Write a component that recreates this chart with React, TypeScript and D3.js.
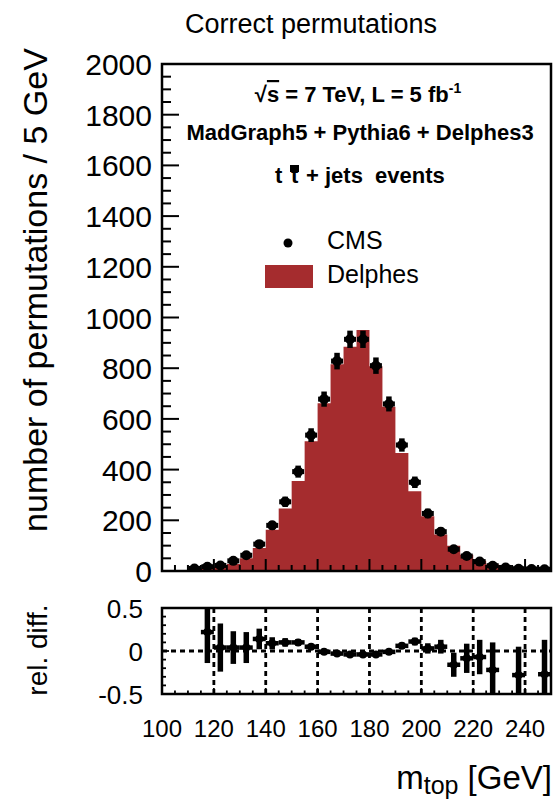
import React from 'react';
import * as d3 from 'd3';

// Reconstructed top-quark mass, 5 GeV bins (lower edges in GeV)
const binLowEdges = [110, 115, 120, 125, 130, 135, 140, 145, 150, 155, 160, 165, 170, 175,
  180, 185, 190, 195, 200, 205, 210, 215, 220, 225, 230, 235, 240, 245];
const binWidth = 5;

// Delphes simulation (filled histogram)
const delphesCounts = [5, 9, 17, 28, 50, 91, 163, 247, 355, 512, 662, 816, 885, 951,
  808, 648, 465, 315, 216, 144, 100, 64, 40, 26, 17, 12, 10, 9];

// CMS points
const cmsCounts = [10, 17, 22, 40, 62, 106, 180, 273, 392, 536, 678, 828, 914, 914,
  810, 659, 497, 350, 227, 155, 86, 59, 37, 21, 14, 9, 8, 7];

// Relative difference panel (null = no point shown)
const relDiff = [null, 0.22, 0.04, 0.04, 0.04, 0.14, 0.09, 0.10, 0.10, 0.05, -0.01, -0.03, -0.04, -0.04,
  -0.04, -0.01, 0.06, 0.11, 0.03, 0.05, -0.16, -0.085, -0.07, -0.22, null, -0.28, null, -0.27];
const relDiffErr = [null, 0.36, 0.28, 0.19, 0.18, 0.12, 0.07, 0.05, 0.04, 0.03, 0.025, 0.025, 0.025, 0.025,
  0.025, 0.03, 0.035, 0.045, 0.06, 0.08, 0.14, 0.17, 0.2, 0.32, null, 0.33, null, 0.4];

const countTicks = [0, 200, 400, 600, 800, 1000, 1200, 1400, 1600, 1800, 2000];
const massTicks = [100, 120, 140, 160, 180, 200, 220, 240];
const ratioTicks = [-0.5, 0, 0.5];
const ratioTickLabels = ['-0.5', '0', '0.5'];

const FONT = "'Liberation Sans', Arial, Helvetica, sans-serif";
const FILL = '#a52c2e';

const LEFT = 162;
const RIGHT = 551;
const MAIN_TOP = 64;
const MAIN_BOTTOM = 571;
const RATIO_TOP = 608;
const RATIO_BOTTOM = 694;

export default function App() {
  const x = d3.scaleLinear().domain([100, 250]).range([LEFT, RIGHT]);
  const y = d3.scaleLinear().domain([0, 2000]).range([MAIN_BOTTOM, MAIN_TOP]);
  const yr = d3.scaleLinear().domain([-0.5, 0.5]).range([RATIO_BOTTOM, RATIO_TOP]);

  // step-shaped histogram outline
  const stepPoints = binLowEdges.map((lo, i) => ({ m: lo, v: delphesCounts[i] }));
  stepPoints.push({ m: binLowEdges[binLowEdges.length - 1] + binWidth, v: delphesCounts[delphesCounts.length - 1] });
  const area = d3.area<{ m: number; v: number }>()
    .x(d => x(d.m))
    .y0(y(0))
    .y1(d => y(d.v))
    .curve(d3.curveStepAfter);

  const yMinor = d3.range(0, 2001, 50).filter(v => v % 200 !== 0);
  const xMinor = d3.range(100, 251, 5).filter(v => v % 20 !== 0);
  const xMajor = d3.range(120, 250, 20);
  const rMinor = d3.range(-0.5, 0.51, 0.1).map(v => Math.round(v * 10) / 10);

  const ink = '#000';

  return (
    <svg width={555} height={800} style={{ position: 'absolute', left: 0, top: 0, display: 'block' }}
      fontFamily={FONT}>
      <rect x={0} y={0} width={555} height={800} fill="#fff" />
      <defs>
        <clipPath id="mainClip">
          <rect x={LEFT} y={MAIN_TOP} width={RIGHT - LEFT} height={MAIN_BOTTOM - MAIN_TOP} />
        </clipPath>
        <clipPath id="ratioClip">
          <rect x={LEFT} y={RATIO_TOP} width={RIGHT - LEFT} height={RATIO_BOTTOM - RATIO_TOP} />
        </clipPath>
      </defs>

      <text x={311} y={33} fontSize={27} textAnchor="middle" fill={ink}>Correct permutations</text>

      {/* main panel */}
      <g clipPath="url(#mainClip)">
        <path d={area(stepPoints) || ''} fill={FILL} />
        {binLowEdges.map((lo, i) => {
          const cx = x(lo + binWidth / 2);
          const cy = y(cmsCounts[i]);
          const err = Math.sqrt(cmsCounts[i]);
          return (
            <g key={lo}>
              <line x1={x(lo) + 0.5} x2={x(lo + binWidth) - 0.5} y1={cy} y2={cy} stroke={ink} strokeWidth={5} />
              <line x1={cx} x2={cx} y1={y(cmsCounts[i] - err) + 1} y2={y(cmsCounts[i] + err) - 1} stroke={ink} strokeWidth={5.5} />
              <circle cx={cx} cy={cy} r={5} fill={ink} />
            </g>
          );
        })}
      </g>
      <rect x={LEFT} y={MAIN_TOP} width={RIGHT - LEFT} height={MAIN_BOTTOM - MAIN_TOP}
        fill="none" stroke={ink} strokeWidth={2.5} />
      {countTicks.map(v => (
        <line key={'ym' + v} x1={LEFT} x2={LEFT + 17} y1={y(v)} y2={y(v)} stroke={ink} strokeWidth={2} />
      ))}
      {yMinor.map(v => (
        <line key={'yn' + v} x1={LEFT} x2={LEFT + 9} y1={y(v)} y2={y(v)} stroke={ink} strokeWidth={2} />
      ))}
      {xMajor.map(v => (
        <line key={'xm' + v} x1={x(v)} x2={x(v)} y1={MAIN_BOTTOM} y2={MAIN_BOTTOM - 12} stroke={ink} strokeWidth={2} />
      ))}
      {xMinor.map(v => (
        <line key={'xn' + v} x1={x(v)} x2={x(v)} y1={MAIN_BOTTOM} y2={MAIN_BOTTOM - 6} stroke={ink} strokeWidth={2} />
      ))}
      {countTicks.map(v => (
        <text key={'yl' + v} x={152} y={y(v) + 11} fontSize={30} textAnchor="end" fill={ink}>{v}</text>
      ))}
      <text transform={`translate(47,290) rotate(-90)`} fontSize={34} textAnchor="middle" fill={ink}>
        number of permutations / 5 GeV
      </text>

      {/* annotations */}
      <text x={358} y={102} fontSize={22} fontWeight="bold" textAnchor="middle" fill={ink}>
        <tspan>√</tspan><tspan style={{ textDecoration: 'overline' }}>s</tspan>
        <tspan> = 7 TeV, L = 5 fb</tspan><tspan dy={-9} fontSize={14}>-1</tspan>
      </text>
      <text x={360} y={140} fontSize={22} fontWeight="bold" textAnchor="middle" fill={ink}>
        MadGraph5 + Pythia6 + Delphes3
      </text>
      <text x={275} y={183} fontSize={22} fontWeight="bold" fill={ink}>t</text>
      <text x={291} y={183} fontSize={22} fontWeight="bold" fill={ink}>t</text>
      <rect x={290} y={165} width={9} height={7} fill={ink} />
      <text x={306} y={183} fontSize={22} fontWeight="bold" fill={ink} style={{ whiteSpace: 'pre' }}>
        {'+ jets  events'}
      </text>

      {/* legend */}
      <circle cx={288} cy={243} r={4.5} fill={ink} />
      <text x={327} y={249} fontSize={25} fill={ink}>CMS</text>
      <rect x={265} y={265} width={48} height={23} fill={FILL} />
      <text x={327} y={283} fontSize={25} fill={ink}>Delphes</text>

      {/* ratio panel */}
      <g clipPath="url(#ratioClip)">
        <line x1={LEFT} x2={RIGHT} y1={yr(0)} y2={yr(0)} stroke={ink} strokeWidth={2.8} strokeDasharray="5,4" />
        {xMajor.map(v => (
          <line key={'g' + v} x1={x(v)} x2={x(v)} y1={RATIO_TOP} y2={RATIO_BOTTOM}
            stroke={ink} strokeWidth={2.8} strokeDasharray="5,4" />
        ))}
        {binLowEdges.map((lo, i) => {
          const r = relDiff[i];
          const e = relDiffErr[i];
          if (r === null || e === null) return null;
          const cx = x(lo + binWidth / 2);
          return (
            <g key={'r' + lo}>
              <line x1={x(lo)} x2={x(lo + binWidth)} y1={yr(r)} y2={yr(r)} stroke={ink} strokeWidth={4.5} />
              <line x1={cx} x2={cx} y1={yr(r - e)} y2={yr(r + e)} stroke={ink} strokeWidth={5.5} />
              <circle cx={cx} cy={yr(r)} r={4} fill={ink} />
            </g>
          );
        })}
      </g>
      <rect x={LEFT} y={RATIO_TOP} width={RIGHT - LEFT} height={RATIO_BOTTOM - RATIO_TOP}
        fill="none" stroke={ink} strokeWidth={2.5} />
      {rMinor.map(v => (
        <line key={'rt' + v} x1={LEFT} x2={LEFT + (Math.abs(v % 0.5) < 1e-9 ? 7 : 4)} y1={yr(v)} y2={yr(v)}
          stroke={ink} strokeWidth={1.8} />
      ))}
      {d3.range(100, 251, 5).map(v => (
        <line key={'rb' + v} x1={x(v)} x2={x(v)} y1={RATIO_BOTTOM} y2={RATIO_BOTTOM - (v % 20 === 0 ? 6 : 3.5)}
          stroke={ink} strokeWidth={1.8} />
      ))}
      {ratioTicks.map((v, i) => (
        <text key={'rl' + v} x={143} y={yr(v) + 10} fontSize={26} textAnchor="end" fill={ink}>{ratioTickLabels[i]}</text>
      ))}
      <text transform={`translate(47,650) rotate(-90)`} fontSize={28} textAnchor="middle" fill={ink}>rel. diff.</text>

      {massTicks.map(v => (
        <text key={'xl' + v} x={x(v)} y={737} fontSize={24} textAnchor="middle" fill={ink}>{v}</text>
      ))}
      <text x={552} y={789} fontSize={33} textAnchor="end" fill={ink}>
        <tspan>m</tspan><tspan fontSize={25} dy={5}>top</tspan><tspan dy={-5}> [GeV]</tspan>
      </text>
    </svg>
  );
}
